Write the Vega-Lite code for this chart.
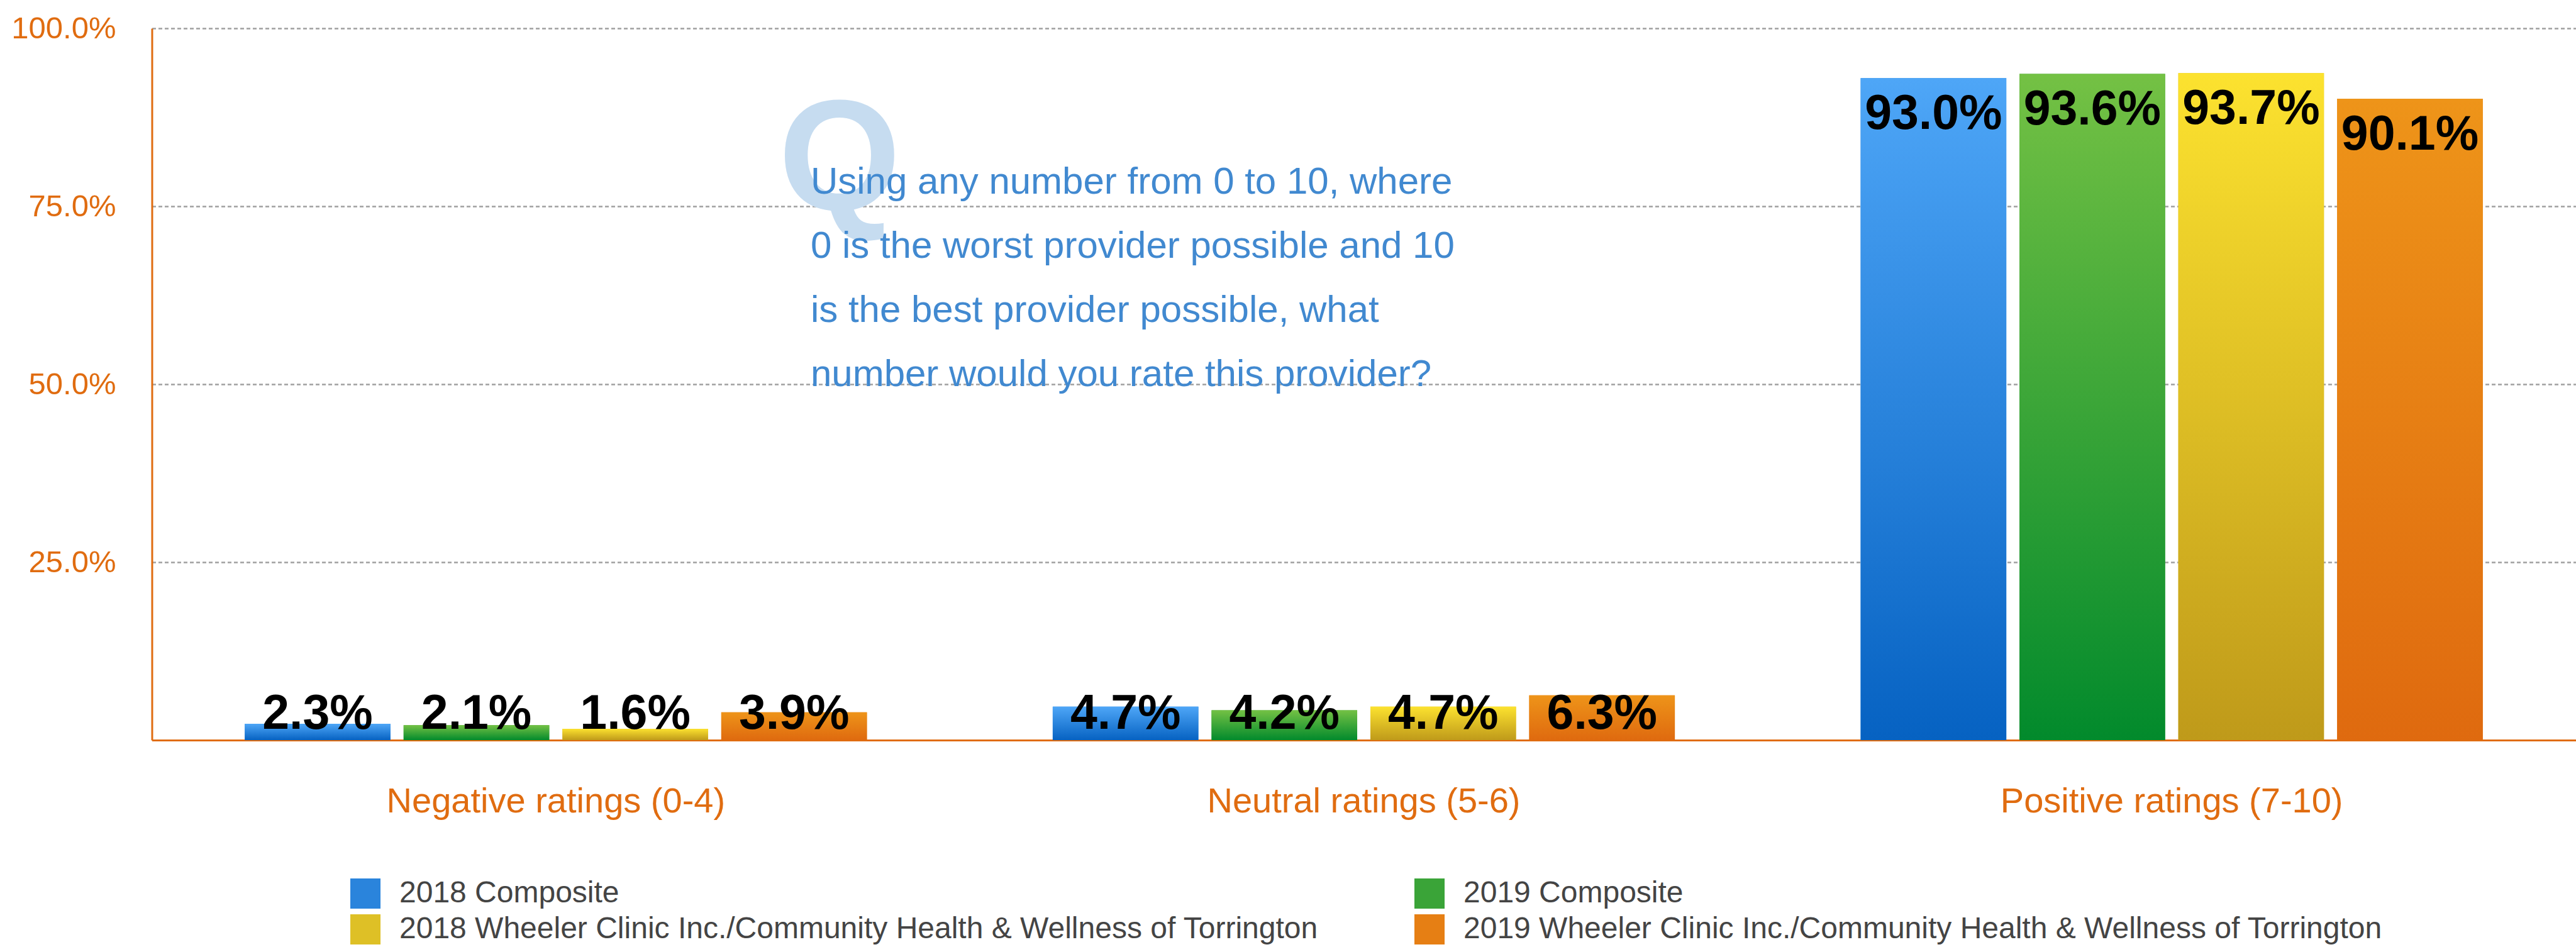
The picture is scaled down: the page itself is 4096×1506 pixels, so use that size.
{
  "$schema": "https://vega.github.io/schema/vega-lite/v6.json",
  "width": 3854,
  "height": 1132,
  "autosize": {"type": "none"},
  "padding": {"left": 241.5, "top": 45, "right": 0, "bottom": 329},
  "background": "white",
  "datasets": {
    "bars": [
      {"category": "Negative ratings (0-4)", "series": "2018 Composite", "value": 0.023},
      {"category": "Negative ratings (0-4)", "series": "2019 Composite", "value": 0.021},
      {"category": "Negative ratings (0-4)", "series": "2018 Wheeler Clinic Inc./Community Health & Wellness of Torrington", "value": 0.016},
      {"category": "Negative ratings (0-4)", "series": "2019 Wheeler Clinic Inc./Community Health & Wellness of Torrington", "value": 0.039},
      {"category": "Neutral ratings (5-6)", "series": "2018 Composite", "value": 0.047},
      {"category": "Neutral ratings (5-6)", "series": "2019 Composite", "value": 0.042},
      {"category": "Neutral ratings (5-6)", "series": "2018 Wheeler Clinic Inc./Community Health & Wellness of Torrington", "value": 0.047},
      {"category": "Neutral ratings (5-6)", "series": "2019 Wheeler Clinic Inc./Community Health & Wellness of Torrington", "value": 0.063},
      {"category": "Positive ratings (7-10)", "series": "2018 Composite", "value": 0.930},
      {"category": "Positive ratings (7-10)", "series": "2019 Composite", "value": 0.936},
      {"category": "Positive ratings (7-10)", "series": "2018 Wheeler Clinic Inc./Community Health & Wellness of Torrington", "value": 0.937},
      {"category": "Positive ratings (7-10)", "series": "2019 Wheeler Clinic Inc./Community Health & Wellness of Torrington", "value": 0.901}
    ],
    "note": [
      {"mark": "Q", "question": "Using any number from 0 to 10, where\n0 is the worst provider possible and 10\nis the best provider possible, what\nnumber would you rate this provider?"}
    ]
  },
  "layer": [
    {
      "data": {"name": "bars"},
      "mark": {"type": "bar"},
      "encoding": {
        "x": {
          "field": "category", "type": "nominal", "sort": null,
          "scale": {"paddingInner": 0.23, "paddingOuter": 0.115},
          "axis": {
            "title": null, "labelAngle": 0, "ticks": false, "tickSize": 0,
            "domainColor": "#E06C10", "domainWidth": 3,
            "labelPadding": 114, "labelBaseline": "alphabetic",
            "labelFont": "Liberation Sans", "labelFontSize": 56,
            "labelColor": "#E06C10", "grid": false, "labelLimit": 2000
          }
        },
        "xOffset": {
          "field": "series", "type": "nominal",
          "scale": {
            "domain": ["2018 Composite", "2019 Composite", "2018 Wheeler Clinic Inc./Community Health & Wellness of Torrington", "2019 Wheeler Clinic Inc./Community Health & Wellness of Torrington"],
            "paddingInner": 0.083, "paddingOuter": 0
          }
        },
        "y": {
          "field": "value", "type": "quantitative",
          "scale": {"domain": [0, 1], "nice": false},
          "axis": {
            "title": null, "values": [0.25, 0.5, 0.75, 1], "format": ".1%",
            "ticks": false, "tickSize": 0,
            "domainColor": "#E06C10", "domainWidth": 3,
            "labelPadding": 57.5, "labelFont": "Liberation Sans", "labelFontSize": 49,
            "labelColor": "#E06C10", "labelBaseline": "middle",
            "grid": true, "gridColor": "#A0A0A0", "gridDash": [6, 4], "gridWidth": 2.5
          }
        },
        "color": {
          "field": "series", "type": "nominal",
          "scale": {
            "domain": ["2018 Composite", "2019 Composite", "2018 Wheeler Clinic Inc./Community Health & Wellness of Torrington", "2019 Wheeler Clinic Inc./Community Health & Wellness of Torrington"],
            "range": ["#2A84DC", "#3AA438", "#DEC026", "#E67F14"]
          },
          "legend": {
            "title": null, "orient": "none", "legendX": 315.5, "legendY": 1352,
            "direction": "horizontal", "columns": 2,
            "symbolType": "square", "symbolSize": 2304, "symbolStrokeWidth": 0, "symbolOpacity": 1,
            "labelFont": "Liberation Sans", "labelFontSize": 48, "labelColor": "#444444",
            "labelOffset": 30, "rowPadding": 9, "columnPadding": 152, "labelLimit": 3000
          }
        }
      }
    },
    {
      "data": {"name": "bars"},
      "mark": {"type": "bar"},
      "encoding": {
        "x": {"field": "category", "type": "nominal", "sort": null},
        "xOffset": {"field": "series", "type": "nominal"},
        "y": {"field": "value", "type": "quantitative"},
        "color": {
          "condition": [
            {"test": "datum.series === '2018 Composite'", "value": {"gradient": "linear", "x1": 0, "y1": 0, "x2": 0, "y2": 1, "stops": [{"offset": 0, "color": "#4EA6F7"}, {"offset": 1, "color": "#0662C2"}]}},
            {"test": "datum.series === '2019 Composite'", "value": {"gradient": "linear", "x1": 0, "y1": 0, "x2": 0, "y2": 1, "stops": [{"offset": 0, "color": "#74C144"}, {"offset": 1, "color": "#028A2C"}]}},
            {"test": "indexof(datum.series, '2018 Wheeler') === 0", "value": {"gradient": "linear", "x1": 0, "y1": 0, "x2": 0, "y2": 1, "stops": [{"offset": 0, "color": "#FCE22F"}, {"offset": 1, "color": "#BF9A1A"}]}}
          ],
          "value": {"gradient": "linear", "x1": 0, "y1": 0, "x2": 0, "y2": 1, "stops": [{"offset": 0, "color": "#EE9419"}, {"offset": 1, "color": "#DF6A0F"}]}
        }
      }
    },
    {
      "data": {"name": "bars"},
      "transform": [{"filter": "datum.value > 0.5"}],
      "mark": {"type": "text", "font": "Liberation Sans", "fontWeight": "bold", "fontSize": 77, "color": "#000000", "baseline": "alphabetic", "dy": 81},
      "encoding": {
        "x": {"field": "category", "type": "nominal", "sort": null},
        "xOffset": {"field": "series", "type": "nominal"},
        "y": {"field": "value", "type": "quantitative"},
        "text": {"field": "value", "type": "quantitative", "format": ".1%"}
      }
    },
    {
      "data": {"name": "bars"},
      "transform": [{"filter": "datum.value < 0.5"}],
      "mark": {"type": "text", "font": "Liberation Sans", "fontWeight": "bold", "fontSize": 77, "color": "#000000", "baseline": "alphabetic", "dy": -18},
      "encoding": {
        "x": {"field": "category", "type": "nominal", "sort": null},
        "xOffset": {"field": "series", "type": "nominal"},
        "y": {"datum": 0, "type": "quantitative"},
        "text": {"field": "value", "type": "quantitative", "format": ".1%"}
      }
    },
    {
      "data": {"name": "note"},
      "mark": {"type": "text", "font": "Liberation Sans", "fontWeight": "bold", "fontSize": 250, "color": "#C6DCF0", "align": "center", "baseline": "alphabetic"},
      "encoding": {
        "x": {"datum": "Negative ratings (0-4)", "type": "nominal", "bandPosition": 0.956},
        "y": {"datum": 0.745, "type": "quantitative"},
        "text": {"field": "mark", "type": "nominal"}
      }
    },
    {
      "data": {"name": "note"},
      "mark": {"type": "text", "font": "Liberation Sans", "fontSize": 60, "color": "#4189D0", "align": "left", "baseline": "alphabetic", "lineBreak": "\n", "lineHeight": 102},
      "encoding": {
        "x": {"datum": "Negative ratings (0-4)", "type": "nominal", "bandPosition": 0.9095},
        "y": {"datum": 0.768, "type": "quantitative"},
        "text": {"field": "question", "type": "nominal"}
      }
    }
  ],
  "config": {
    "view": {"stroke": null}
  }
}
